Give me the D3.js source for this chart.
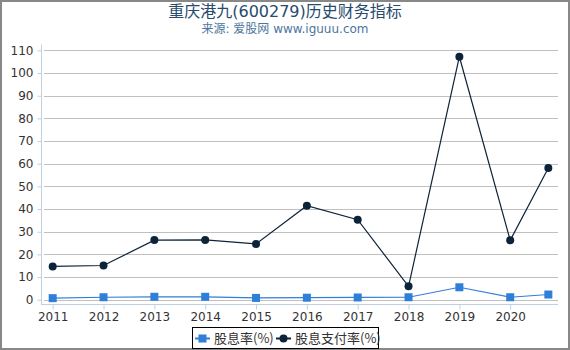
<!DOCTYPE html>
<html>
<head>
<meta charset="utf-8">
<script src="https://cdn.jsdelivr.net/npm/d3@7"></script>
<style>
  body { margin: 0; background: #fff; }
  svg { font-family: "DejaVu Sans", "Noto Sans CJK SC", sans-serif; }
</style>
</head>
<body>
<script>
// data
const years = [2011, 2012, 2013, 2014, 2015, 2016, 2017, 2018, 2019, 2020, 2020.75];
const tickYears = [2011, 2012, 2013, 2014, 2015, 2016, 2017, 2018, 2019, 2020];
const dividendYield = [0.7, 1.1, 1.3, 1.3, 0.8, 0.9, 1.0, 1.1, 5.5, 1.1, 2.3];
const payoutRatio = [14.7, 15.1, 26.3, 26.4, 24.6, 41.5, 35.3, 5.9, 107.2, 26.2, 58.1];
const yTicks = [0, 10, 20, 30, 40, 50, 60, 70, 80, 90, 100, 110];
const seriesNames = ["股息率(%)", "股息支付率(%)"];

const W = 570, H = 350;
const svg = d3.select("body").append("svg").attr("width", W).attr("height", H);

// outer frame
svg.append("rect").attr("x", 1).attr("y", 1).attr("width", W - 2).attr("height", H - 2)
  .attr("fill", "#fff").attr("stroke", "#888").attr("stroke-width", 2);

svg.append("text").attr("x", 285).attr("y", 17).attr("text-anchor", "middle")
  .attr("font-size", 16).attr("fill", "#274b6d").text("重庆港九(600279)历史财务指标");
svg.append("text").attr("x", 285).attr("y", 33).attr("text-anchor", "middle")
  .attr("font-size", 12).attr("fill", "#4d759e").text("来源: 爱股网 www.iguuu.com");

const x = d3.scaleLinear().domain([2010.77, 2020.94]).range([41, 558]);
const y = d3.scaleLinear().domain([-2.1, 112.6]).range([304.5, 44.5]);

// grid
svg.append("g").selectAll("line").data(yTicks).join("line")
  .attr("x1", 44).attr("x2", 558)
  .attr("y1", d => Math.round(y(d)) + 0.5).attr("y2", d => Math.round(y(d)) + 0.5)
  .attr("stroke", "#c0c0c0").attr("stroke-width", 1);

// y axis
const yAxis = svg.append("g").attr("transform", "translate(41.5,0)")
  .call(d3.axisLeft(y).tickValues(yTicks).tickSize(4).tickPadding(4));
yAxis.select(".domain").attr("d", "M0,44.5V304.5").attr("stroke", "#c0d0e0");
yAxis.selectAll(".tick line").attr("stroke", "#c0d0e0");
yAxis.selectAll("text").attr("font-size", 12).attr("fill", "#333")
  .attr("font-family", "DejaVu Sans");

// x axis
const xAxis = svg.append("g").attr("transform", "translate(0,304.5)")
  .call(d3.axisBottom(x).tickValues(tickYears).tickFormat(d3.format("d")).tickSize(5).tickPadding(3));
xAxis.select(".domain").attr("d", "M41,0H558").attr("stroke", "#c0d0e0");
xAxis.selectAll(".tick line").attr("stroke", "#c0d0e0");
xAxis.selectAll("text").attr("font-size", 12).attr("fill", "#333")
  .attr("font-family", "DejaVu Sans");

const line = d3.line().x((d, i) => x(years[i])).y(d => y(d));
const blue = "#2f7ed8", dark = "#0d233a";

svg.append("path").datum(payoutRatio).attr("d", line)
  .attr("fill", "none").attr("stroke", dark).attr("stroke-width", 1.2);
svg.append("path").datum(dividendYield).attr("d", line)
  .attr("fill", "none").attr("stroke", blue).attr("stroke-width", 1.2);

svg.append("g").selectAll("rect").data(dividendYield).join("rect")
  .attr("x", (d, i) => x(years[i]) - 4).attr("y", d => y(d) - 4)
  .attr("width", 8).attr("height", 8).attr("fill", blue);
svg.append("g").selectAll("circle").data(payoutRatio).join("circle")
  .attr("cx", (d, i) => x(years[i])).attr("cy", d => y(d)).attr("r", 4).attr("fill", dark);

// legend
const lg = svg.append("g");
lg.append("rect").attr("x", 192.5).attr("y", 327.5).attr("width", 186).attr("height", 21)
  .attr("fill", "#fff").attr("stroke", "#000").attr("stroke-width", 1);
const items = [{ name: seriesNames[0], c: blue, sq: true, x: 195 }, { name: seriesNames[1], c: dark, sq: false, x: 276 }];
items.forEach(it => {
  lg.append("line").attr("x1", it.x).attr("x2", it.x + 15).attr("y1", 338.5).attr("y2", 338.5)
    .attr("stroke", it.c).attr("stroke-width", 2);
  if (it.sq) lg.append("rect").attr("x", it.x + 3.5).attr("y", 334.5).attr("width", 8).attr("height", 8).attr("fill", it.c);
  else lg.append("circle").attr("cx", it.x + 7.5).attr("cy", 338.5).attr("r", 4).attr("fill", it.c);
  lg.append("text").attr("x", it.x + 19).attr("y", 343).attr("font-size", 13)
    .attr("font-family", "Noto Sans CJK SC").attr("fill", "#333").text(it.name);
});
</script>
</body>
</html>
